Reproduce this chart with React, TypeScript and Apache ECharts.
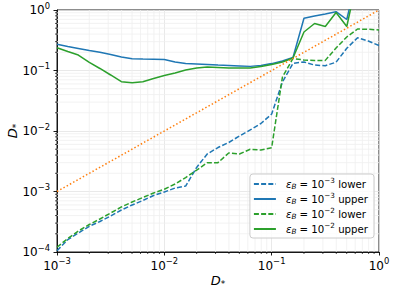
import React, { useEffect, useRef } from 'react';
import * as echarts from 'echarts';

const xValues = [0.001, 0.00126, 0.00158, 0.002, 0.00251, 0.00316, 0.00398, 0.00501, 0.00631, 0.00794,
  0.01, 0.0126, 0.0158, 0.02, 0.0251, 0.0316, 0.0398, 0.0501, 0.0631, 0.0794,
  0.1, 0.126, 0.158, 0.2, 0.251, 0.316, 0.398, 0.501, 0.631, 0.794, 1.0];

const blueLower = [1.05e-4, 1.6e-4, 2.06e-4, 2.66e-4, 3.19e-4, 3.94e-4, 4.95e-4, 5.98e-4, 7.1e-4, 8.6e-4,
  9.8e-4, 1.14e-3, 1.23e-3, 2.5e-3, 4.17e-3, 5.33e-3, 6.45e-3, 8.27e-3, 1.04e-2, 1.33e-2,
  1.91e-2, 0.0645, 0.1315, 0.138, 0.123, 0.12, 0.137, 0.233, 0.348, 0.307, 0.259];
const blueUpper = [0.271, 0.249, 0.231, 0.214, 0.2, 0.184, 0.167, 0.157, 0.155, 0.154,
  0.152, 0.138, 0.13, 0.128, 0.126, 0.123, 0.121, 0.119, 0.117, 0.121,
  0.13, 0.144, 0.164, 0.729, 0.796, 0.859, 0.937, 0.697, 4.0, 4.0, 4.0];
const greenLower = [1.2e-4, 1.67e-4, 2.22e-4, 2.85e-4, 3.51e-4, 4.41e-4, 5.55e-4, 6.7e-4, 7.96e-4, 9.45e-4,
  1.09e-3, 1.33e-3, 1.7e-3, 2.25e-3, 3.0e-3, 3.0e-3, 4.33e-3, 4.17e-3, 4.99e-3, 4.85e-3,
  5.3e-3, 0.078, 0.158, 0.149, 0.146, 0.147, 0.235, 0.358, 0.485, 0.48, 0.467];
const greenUpper = [0.238, 0.206, 0.18, 0.136, 0.108, 0.0843, 0.0653, 0.0629, 0.0653, 0.0738,
  0.0827, 0.091, 0.102, 0.11, 0.114, 0.112, 0.11, 0.11, 0.11, 0.116,
  0.126, 0.138, 0.161, 0.433, 0.598, 0.534, 0.91, 0.534, 3.5, 3.5, 3.5];
const diagX = [0.001, 1];
const diagY = [0.001, 1];

const seriesNames = ['b3lower', 'b3upper', 'b2lower', 'b2upper'];
const legendLabels: Record<string, [string, string]> = {
  b3lower: ['3', 'lower'],
  b3upper: ['3', 'upper'],
  b2lower: ['2', 'lower'],
  b2upper: ['2', 'upper'],
};

const X_MIN = 0.001, X_MAX = 1, Y_MIN = 0.0001, Y_MAX = 1;
const xMinorTicks = [0.002, 0.003, 0.004, 0.005, 0.006, 0.007, 0.008, 0.009,
  0.02, 0.03, 0.04, 0.05, 0.06, 0.07, 0.08, 0.09,
  0.2, 0.3, 0.4, 0.5, 0.6, 0.7, 0.8, 0.9];
const yMinorTicks = [0.0002, 0.0003, 0.0004, 0.0005, 0.0006, 0.0007, 0.0008, 0.0009,
  0.002, 0.003, 0.004, 0.005, 0.006, 0.007, 0.008, 0.009,
  0.02, 0.03, 0.04, 0.05, 0.06, 0.07, 0.08, 0.09,
  0.2, 0.3, 0.4, 0.5, 0.6, 0.7, 0.8, 0.9];

const FONT = 'DejaVu Sans';
const BLUE = '#1f77b4', GREEN = '#2ca02c', ORANGE = '#ff7f0e';

const pairs = (ys: number[]) => xValues.map((x, i) => [x, ys[i]]);

const tickFmt = (v: number) => {
  const e = Math.round(Math.log10(v));
  return `{b|10}{s|${e < 0 ? '\u2212' : ''}${Math.abs(e)}}`;
};
const tickRich = {
  b: { fontSize: 12, fontFamily: FONT, color: '#000' },
  s: { fontSize: 8.4, fontFamily: FONT, color: '#000', padding: [0, 0, 9, 0] },
};
const nameRich = {
  d: { fontSize: 13, fontFamily: FONT, fontStyle: 'italic', color: '#000' },
  s: { fontSize: 9, fontFamily: FONT, color: '#000', padding: [6, 0, 0, 0] },
};

export default function App() {
  const ref = useRef<HTMLDivElement>(null);
  useEffect(() => {
    if (!ref.current) return;
    const chart = echarts.init(ref.current, null, { renderer: 'svg' });
    const minorData: number[][] = [
      ...xMinorTicks.map((v) => [v, Y_MIN, 0]),
      ...yMinorTicks.map((v) => [X_MIN, v, 1]),
    ];
    const lineSeries = (name: string, ys: number[], color: string, dashed: boolean) => ({
      name,
      type: 'line',
      data: pairs(ys),
      showSymbol: false,
      symbol: 'none',
      clip: true,
      z: 3,
      lineStyle: { color, width: 1.5, type: dashed ? [5, 2.2] : 'solid' },
      itemStyle: { color },
    });
    chart.setOption({
      animation: false,
      backgroundColor: '#fff',
      grid: {
        left: 57, right: 18, top: 10, bottom: 41, show: true, borderColor: '#000', borderWidth: 0.9,
        backgroundColor: 'transparent', containLabel: false, outerBoundsMode: 'none',
      },
      xAxis: {
        type: 'log', logBase: 10, min: X_MIN, max: X_MAX, splitNumber: 3,
        axisLine: { show: true, lineStyle: { color: '#000', width: 0.9 } },
        axisTick: { show: true, length: 3.5, lineStyle: { color: '#000', width: 0.9 } },
        axisLabel: { formatter: tickFmt, rich: tickRich, margin: 5 },
        splitLine: { show: true, lineStyle: { color: '#e3e3e3', width: 0.8 } },
        name: '{d|D}{s|*}', nameLocation: 'middle', nameGap: 21, nameMoveOverlap: false,
        nameTextStyle: { rich: nameRich },
      },
      yAxis: {
        type: 'log', logBase: 10, min: Y_MIN, max: Y_MAX, splitNumber: 4,
        axisLine: { show: true, lineStyle: { color: '#000', width: 0.9 } },
        axisTick: { show: true, length: 3.5, lineStyle: { color: '#000', width: 0.9 } },
        axisLabel: { formatter: tickFmt, rich: tickRich, margin: 7 },
        splitLine: { show: true, lineStyle: { color: '#e3e3e3', width: 0.8 } },
        name: '{d|D}{s|*}', nameLocation: 'middle', nameGap: 37, nameMoveOverlap: false,
        nameTextStyle: { rich: nameRich },
      },
      legend: {
        data: seriesNames,
        orient: 'vertical',
        right: 23,
        top: 174,
        itemWidth: 22,
        itemHeight: 8,
        itemGap: 2,
        padding: [3, 6, 3, 3],
        backgroundColor: 'rgba(255,255,255,0.8)',
        borderColor: '#cccccc',
        borderWidth: 1,
        borderRadius: 3,
        itemStyle: { opacity: 0, borderWidth: 0 },
        formatter: (name: string) => {
          const [e, w] = legendLabels[name];
          return `{e|\u03b5}{sub|B}{t| = 10}{sup|\u2212${e}}{t| ${w}}`;
        },
        textStyle: {
          rich: {
            e: { fontSize: 10.2, fontFamily: FONT, fontStyle: 'italic', color: '#000', padding: [0, 0, 0, 5] },
            sub: { fontSize: 7.2, fontFamily: FONT, fontStyle: 'italic', color: '#000', padding: [5, 0, 0, 0] },
            t: { fontSize: 10.2, fontFamily: FONT, color: '#000' },
            sup: { fontSize: 7.2, fontFamily: FONT, color: '#000', padding: [0, 0, 7, 0] },
          },
        },
      },
      series: [
        {
          type: 'custom',
          silent: true,
          z: 1,
          encode: { x: 0, y: 1 },
          data: minorData,
          renderItem: (_params: any, api: any) => {
            const flag = api.value(2);
            if (flag === 0) {
              const v = api.value(0);
              const p1 = api.coord([v, Y_MIN]);
              const p2 = api.coord([v, Y_MAX]);
              return {
                type: 'group',
                children: [
                  { type: 'line', shape: { x1: p1[0], y1: p1[1], x2: p2[0], y2: p2[1] }, style: { stroke: '#efefef', lineWidth: 0.8 } },
                  { type: 'line', shape: { x1: p1[0], y1: p1[1], x2: p1[0], y2: p1[1] + 2 }, style: { stroke: '#000', lineWidth: 0.7 } },
                ],
              };
            }
            const v = api.value(1);
            const p1 = api.coord([X_MIN, v]);
            const p2 = api.coord([X_MAX, v]);
            return {
              type: 'group',
              children: [
                { type: 'line', shape: { x1: p1[0], y1: p1[1], x2: p2[0], y2: p2[1] }, style: { stroke: '#efefef', lineWidth: 0.8 } },
                { type: 'line', shape: { x1: p1[0] - 2, y1: p1[1], x2: p1[0], y2: p1[1] }, style: { stroke: '#000', lineWidth: 0.7 } },
              ],
            };
          },
        },
        lineSeries('b3lower', blueLower, BLUE, true),
        lineSeries('b3upper', blueUpper, BLUE, false),
        lineSeries('b2lower', greenLower, GREEN, true),
        lineSeries('b2upper', greenUpper, GREEN, false),
        {
          name: 'diag',
          type: 'line',
          data: diagX.map((x, i) => [x, diagY[i]]),
          showSymbol: false,
          symbol: 'none',
          z: 3,
          lineStyle: { color: ORANGE, width: 1.5, type: [1.5, 2.2] },
        },
      ],
    });
    return () => chart.dispose();
  }, []);
  return <div ref={ref} style={{ position: 'fixed', left: 0, top: 0, width: 397, height: 293 }} />;
}
